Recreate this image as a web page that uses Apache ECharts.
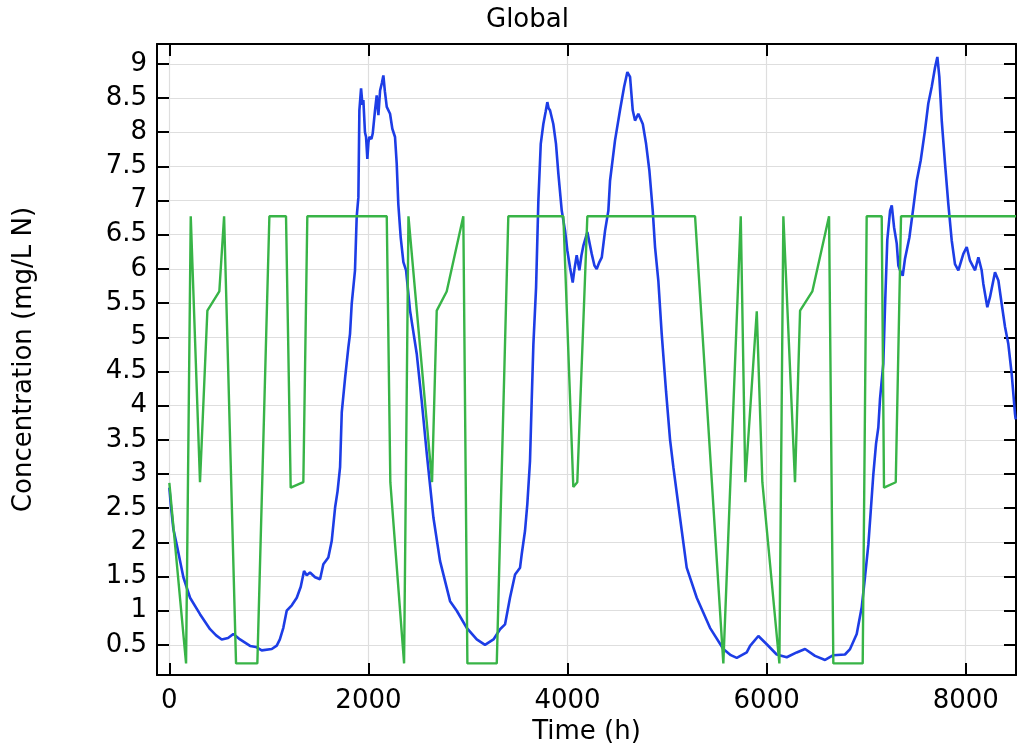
<!DOCTYPE html>
<html>
<head>
<meta charset="utf-8">
<script src="https://cdn.jsdelivr.net/npm/echarts@6/dist/echarts.min.js"></script>
<style>
html,body{margin:0;padding:0;background:#fff;}
#chart{width:1021px;height:744px;}
</style>
</head>
<body>
<div id="chart"></div>
<script>
// ---- data ----
const titleText = 'Global';
const xAxisName = 'Time (h)';
const yAxisName = 'Concentration (mg/L N)';
const xTicks = [0, 2000, 4000, 6000, 8000];
const yTicks = [0.5, 1, 1.5, 2, 2.5, 3, 3.5, 4, 4.5, 5, 5.5, 6, 6.5, 7, 7.5, 8, 8.5, 9];

const blueTime = [0,14,40,74,141,208,308,409,470,526,590,643,710,811,870,928,1029,1079,1110,1145,1179,1230,1280,1320,1353,1380,1413,1464,1514,1547,1597,1631,1665,1690,1715,1732,1765,1798,1815,1832,1865,1882,1899,1909,1926,1940,1949,1965,1976,1989,2000,2009,2030,2043,2066,2083,2100,2117,2135,2150,2165,2184,2200,2217,2240,2267,2284,2300,2324,2351,2378,2418,2485,2535,2586,2653,2719,2820,2887,2987,3088,3171,3256,3322,3372,3422,3473,3523,3540,3573,3596,3623,3640,3657,3684,3707,3731,3757,3780,3797,3810,3824,3857,3884,3908,3942,3975,3998,4025,4052,4070,4092,4119,4140,4159,4199,4243,4270,4293,4320,4344,4377,4410,4427,4477,4527,4568,4601,4628,4655,4678,4711,4756,4789,4822,4856,4879,4912,4946,4990,5030,5063,5130,5197,5298,5431,5565,5640,5700,5800,5834,5917,6001,6101,6202,6302,6386,6486,6587,6670,6787,6838,6905,6955,6988,7022,7046,7072,7099,7122,7139,7172,7189,7212,7240,7257,7280,7307,7323,7340,7367,7390,7434,7474,7508,7548,7591,7624,7658,7692,7715,7735,7759,7792,7825,7859,7892,7926,7976,8010,8043,8094,8127,8160,8177,8217,8244,8294,8328,8361,8395,8428,8462,8495,8502];
const blueConc = [2.80,2.56,2.20,1.97,1.49,1.19,0.95,0.73,0.64,0.58,0.60,0.66,0.58,0.485,0.47,0.42,0.44,0.49,0.58,0.75,1.00,1.08,1.19,1.35,1.58,1.52,1.56,1.49,1.46,1.68,1.78,2.02,2.51,2.75,3.10,3.90,4.40,4.85,5.05,5.49,5.98,6.76,7.05,8.32,8.64,8.40,8.47,8.00,7.93,7.61,7.85,7.93,7.90,7.98,8.32,8.54,8.25,8.61,8.72,8.83,8.60,8.37,8.35,8.27,8.05,7.93,7.54,6.95,6.46,6.10,5.98,5.39,4.76,4.07,3.30,2.36,1.73,1.14,1.00,0.75,0.58,0.50,0.58,0.73,0.80,1.19,1.53,1.63,1.83,2.17,2.56,3.19,4.07,4.90,5.73,7.00,7.83,8.12,8.30,8.44,8.35,8.32,8.12,7.83,7.39,6.85,6.56,6.27,6.02,5.80,6.00,6.20,5.98,6.20,6.34,6.54,6.22,6.05,6.00,6.10,6.17,6.56,6.85,7.29,7.88,8.32,8.66,8.88,8.81,8.32,8.17,8.27,8.12,7.83,7.44,6.85,6.32,5.83,5.05,4.20,3.50,3.10,2.36,1.63,1.19,0.75,0.44,0.35,0.31,0.39,0.485,0.63,0.51,0.36,0.32,0.39,0.44,0.34,0.28,0.35,0.36,0.44,0.66,1.05,1.49,1.97,2.46,3.00,3.44,3.68,4.10,4.61,5.44,6.42,6.85,6.93,6.61,6.37,6.05,5.98,5.90,6.15,6.46,6.90,7.29,7.59,8.03,8.42,8.66,8.95,9.10,8.81,8.17,7.54,6.95,6.42,6.07,5.98,6.22,6.32,6.12,5.98,6.17,5.98,5.78,5.44,5.59,5.95,5.83,5.49,5.15,4.90,4.46,3.88,3.80];

const greenTime = [0,168,215,308,382,502,550,670,884,1005,1172,1219,1346,1386,2184,2220,2358,2402,2639,2686,2786,2953,2994,3289,3405,3958,4058,4098,4199,5281,5565,5740,5786,5901,5957,6128,6168,6285,6336,6459,6627,6670,6965,7005,7156,7179,7297,7350,8505];
const greenConc = [2.87,0.23,6.77,2.88,5.39,5.67,6.77,0.23,0.23,6.77,6.77,2.80,2.88,6.77,6.77,2.88,0.23,6.77,2.88,5.39,5.67,6.77,0.23,0.23,6.77,6.77,2.81,2.88,6.77,6.77,0.23,6.77,2.88,5.38,2.88,0.23,6.77,2.88,5.39,5.67,6.77,0.23,0.23,6.77,6.77,2.80,2.88,6.77,6.77];

const xMin = -124, xMax = 8505;
const yMin = 0.06, yMax = 9.29;

const blueData = blueTime.map((t, i) => [t, blueConc[i]]);
const greenData = greenTime.map((t, i) => [t, greenConc[i]]);

const FONT = 'DejaVu Sans';
const FS = 26;

function baseAxis(type, pos, ticks, show) {
  return {
    type: 'value',
    position: pos,
    min: type === 'x' ? xMin : yMin,
    max: type === 'x' ? xMax : yMax,
    axisLine: { show: true, onZero: false, lineStyle: { color: '#000', width: 2 } },
    axisTick: { show: true, inside: true, length: 12, customValues: ticks, lineStyle: { color: '#000', width: 2 } },
    axisLabel: show ? { show: true, customValues: ticks, fontFamily: FONT, fontSize: FS, color: '#000', margin: type === 'x' ? 13 : 10,
      formatter: v => String(v) } : { show: false, customValues: ticks },
    splitLine: { show: show, lineStyle: { color: '#dedede', width: 1.2 } }
  };
}

const xBottom = Object.assign(baseAxis('x', 'bottom', xTicks, true), {
  name: xAxisName, nameLocation: 'middle', nameGap: 37,
  nameTextStyle: { fontFamily: FONT, fontSize: FS, color: '#000' }
});
const xTop = baseAxis('x', 'top', xTicks, false);
const yLeft = Object.assign(baseAxis('y', 'left', yTicks, true), {
  name: yAxisName, nameLocation: 'middle', nameGap: 120, nameRotate: 90,
  nameTextStyle: { fontFamily: FONT, fontSize: FS, color: '#000' }
});
const yRight = baseAxis('y', 'right', yTicks, false);

const chart = echarts.init(document.getElementById('chart'), null, { renderer: 'canvas' });
chart.setOption({
  animation: false,
  backgroundColor: '#fff',
  title: { text: titleText, left: 481, top: 2,
    textStyle: { fontFamily: FONT, fontSize: FS, fontWeight: 'normal', color: '#000' } },
  grid: { left: 157, top: 44, right: 5, bottom: 69, containLabel: false, outerBoundsMode: 'none' },
  xAxis: [xBottom, xTop],
  yAxis: [yLeft, yRight],
  series: [
    { type: 'line', data: blueData, xAxisIndex: 0, yAxisIndex: 0, showSymbol: false,
      lineStyle: { color: '#1d3de6', width: 2.6 }, itemStyle: { color: '#1d3de6' }, z: 3 },
    { type: 'line', data: greenData, xAxisIndex: 0, yAxisIndex: 0, showSymbol: false,
      lineStyle: { color: '#38b447', width: 2.4 }, itemStyle: { color: '#38b447' }, z: 4 }
  ]
});
</script>
</body>
</html>
